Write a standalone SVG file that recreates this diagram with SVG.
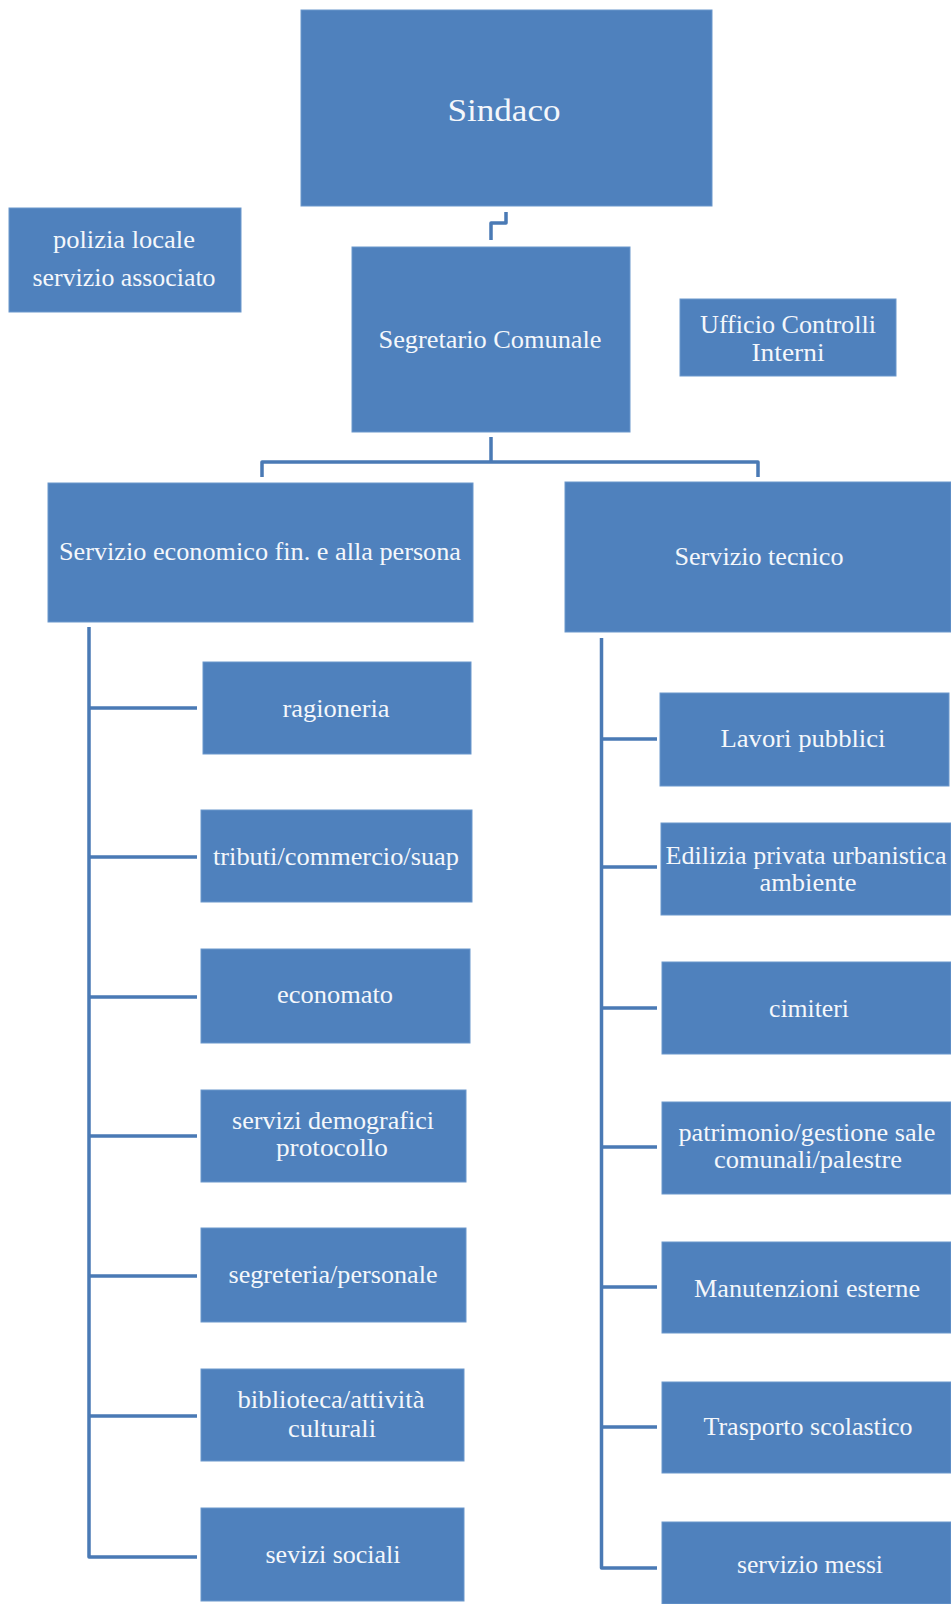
<svg xmlns="http://www.w3.org/2000/svg" width="951" height="1604" viewBox="0 0 951 1604">
<style>
.box{fill:#4f81bd;stroke:#6b97cc;stroke-width:1}
.t{fill:#f4f7fb;font-family:"Liberation Serif","Times New Roman",serif;font-size:26px;text-anchor:middle}
.big{font-size:32px}
.ln{fill:none;stroke:#4a7ab5;stroke-width:3.5;stroke-linejoin:round;stroke-linecap:butt}
</style>
<rect width="951" height="1604" fill="#ffffff"/>
<g id="connectors">
<path class="ln" d="M506,212 V223 H491 V240"/>
<path class="ln" d="M491,437 V462 M262,477 V462 H758 V477"/>
<path class="ln" d="M89,627 V1557 H197 M89,708 H197 M89,857 H197 M89,997 H197 M89,1136 H197 M89,1276 H197 M89,1416 H197"/>
<path class="ln" d="M601.5,638 V1568 H657 M601.5,739 H657 M601.5,867 H657 M601.5,1008 H657 M601.5,1147 H657 M601.5,1287 H657 M601.5,1427 H657"/>
</g>
<g id="sindaco"><rect class="box" x="301" y="10" width="411" height="196"/><text class="t big" x="504" y="121" textLength="113" lengthAdjust="spacingAndGlyphs">Sindaco</text></g>
<g id="polizia"><rect class="box" x="9" y="208" width="232" height="104"/><text class="t" x="124" y="248" textLength="142" lengthAdjust="spacingAndGlyphs">polizia locale</text><text class="t" x="124" y="286" textLength="183" lengthAdjust="spacingAndGlyphs">servizio associato</text></g>
<g id="segretario"><rect class="box" x="352" y="247" width="278" height="185"/><text class="t" x="490" y="348" textLength="223" lengthAdjust="spacingAndGlyphs">Segretario Comunale</text></g>
<g id="ufficio"><rect class="box" x="680" y="299" width="216" height="77"/><text class="t" x="788" y="333" textLength="176" lengthAdjust="spacingAndGlyphs">Ufficio Controlli</text><text class="t" x="788" y="361" textLength="73" lengthAdjust="spacingAndGlyphs">Interni</text></g>
<g id="servizio-economico"><rect class="box" x="48" y="483" width="425" height="139"/><text class="t" x="260" y="560" textLength="402" lengthAdjust="spacingAndGlyphs">Servizio economico fin. e alla persona</text></g>
<g id="servizio-tecnico"><rect class="box" x="565" y="482" width="386" height="150"/><text class="t" x="759" y="565" textLength="169" lengthAdjust="spacingAndGlyphs">Servizio tecnico</text></g>
<g id="ragioneria"><rect class="box" x="203" y="662" width="268" height="92"/><text class="t" x="336" y="717" textLength="107" lengthAdjust="spacingAndGlyphs">ragioneria</text></g>
<g id="tributi"><rect class="box" x="201" y="810" width="271" height="92"/><text class="t" x="336" y="865" textLength="246" lengthAdjust="spacingAndGlyphs">tributi/commercio/suap</text></g>
<g id="economato"><rect class="box" x="201" y="949" width="269" height="94"/><text class="t" x="335" y="1003" textLength="116" lengthAdjust="spacingAndGlyphs">economato</text></g>
<g id="demografici"><rect class="box" x="201" y="1090" width="265" height="92"/><text class="t" x="333" y="1129" textLength="202" lengthAdjust="spacingAndGlyphs">servizi demografici</text><text class="t" x="332" y="1156" textLength="112" lengthAdjust="spacingAndGlyphs">protocollo</text></g>
<g id="segreteria"><rect class="box" x="201" y="1228" width="265" height="94"/><text class="t" x="333" y="1283" textLength="209" lengthAdjust="spacingAndGlyphs">segreteria/personale</text></g>
<g id="biblioteca"><rect class="box" x="201" y="1369" width="263" height="92"/><text class="t" x="331" y="1408" textLength="187" lengthAdjust="spacingAndGlyphs">biblioteca/attività</text><text class="t" x="332" y="1437" textLength="88" lengthAdjust="spacingAndGlyphs">culturali</text></g>
<g id="sociali"><rect class="box" x="201" y="1508" width="263" height="93"/><text class="t" x="333" y="1563" textLength="135" lengthAdjust="spacingAndGlyphs">sevizi sociali</text></g>
<g id="lavori"><rect class="box" x="660" y="693" width="289" height="93"/><text class="t" x="803" y="747" textLength="165" lengthAdjust="spacingAndGlyphs">Lavori pubblici</text></g>
<g id="edilizia"><rect class="box" x="661" y="823" width="290" height="92"/><text class="t" x="806" y="864" textLength="281" lengthAdjust="spacingAndGlyphs">Edilizia privata urbanistica</text><text class="t" x="808" y="891" textLength="97" lengthAdjust="spacingAndGlyphs">ambiente</text></g>
<g id="cimiteri"><rect class="box" x="662" y="962" width="289" height="92"/><text class="t" x="809" y="1017" textLength="80" lengthAdjust="spacingAndGlyphs">cimiteri</text></g>
<g id="patrimonio"><rect class="box" x="662" y="1102" width="289" height="92"/><text class="t" x="807" y="1141" textLength="257" lengthAdjust="spacingAndGlyphs">patrimonio/gestione sale</text><text class="t" x="808" y="1168" textLength="188" lengthAdjust="spacingAndGlyphs">comunali/palestre</text></g>
<g id="manutenzioni"><rect class="box" x="662" y="1242" width="289" height="91"/><text class="t" x="807" y="1297" textLength="226" lengthAdjust="spacingAndGlyphs">Manutenzioni esterne</text></g>
<g id="trasporto"><rect class="box" x="662" y="1382" width="289" height="91"/><text class="t" x="808" y="1435" textLength="209" lengthAdjust="spacingAndGlyphs">Trasporto scolastico</text></g>
<g id="messi"><rect class="box" x="662" y="1522" width="289" height="82"/><text class="t" x="810" y="1573" textLength="146" lengthAdjust="spacingAndGlyphs">servizio messi</text></g>
</svg>
